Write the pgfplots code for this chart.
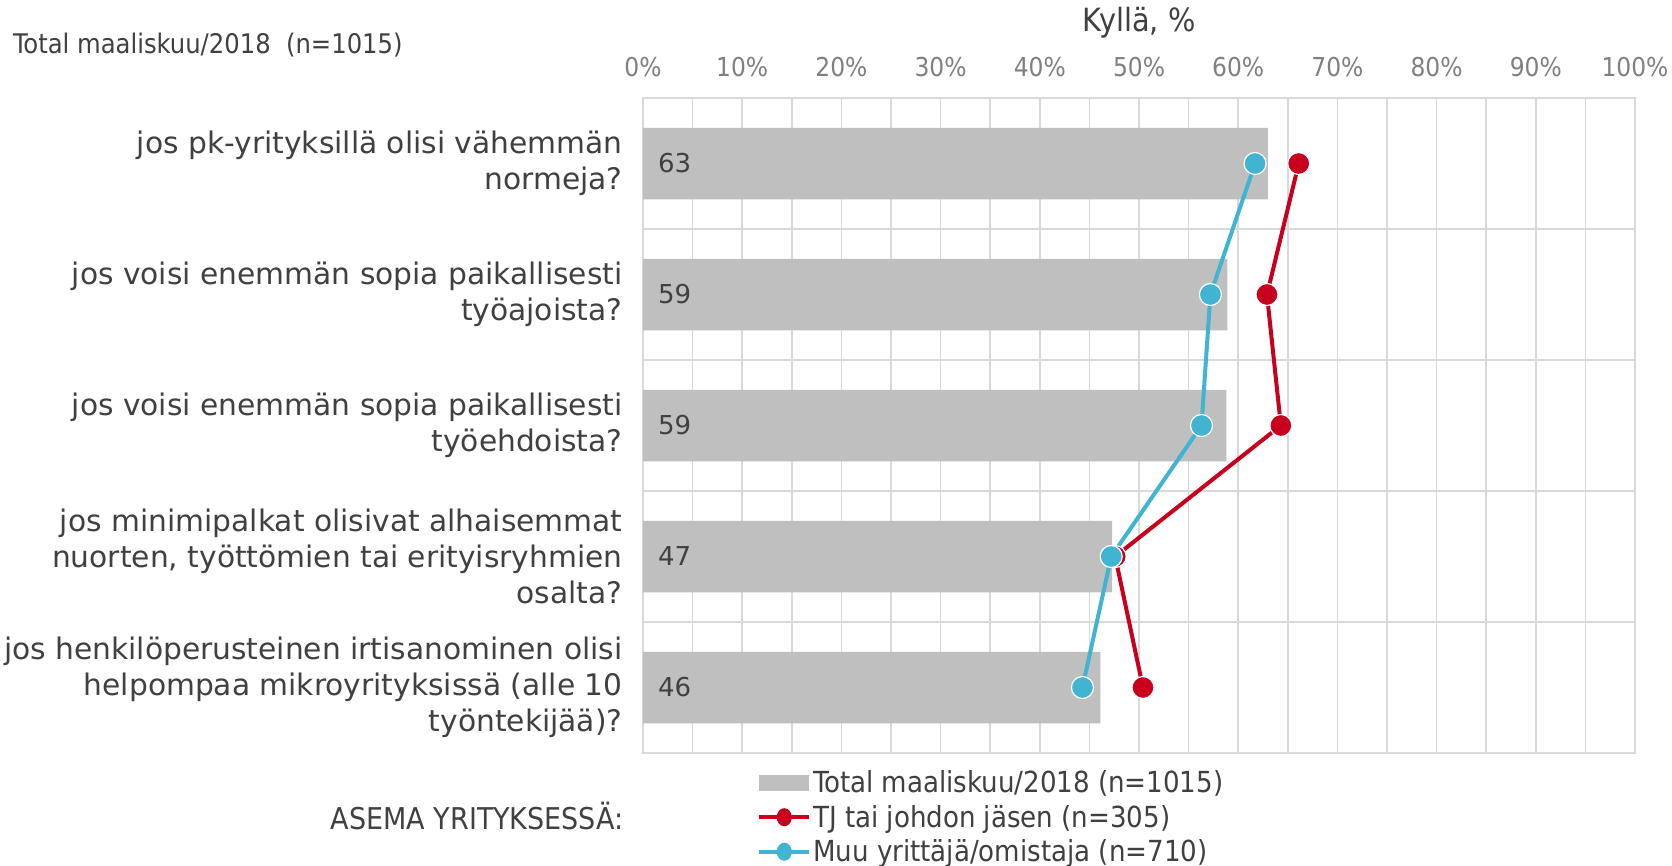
\documentclass[border=0pt]{standalone}
\usepackage{pgfplots}
\pgfplotsset{compat=1.18}
\usepackage{fontspec}
\setmainfont{DejaVu Sans}
\newfontfamily\cond{DejaVu Sans Condensed}
\definecolor{cGray}{HTML}{BFBFBF}
\definecolor{cRed}{HTML}{C8001E}
\definecolor{cBlue}{HTML}{41B4D2}
\definecolor{cGrid}{HTML}{D9D9D9}
\definecolor{cText}{HTML}{404040}
\definecolor{cTick}{HTML}{808080}
\begin{document}
\begin{tikzpicture}
\useasboundingbox (0,0) rectangle (1672bp,866bp);
\node[anchor=west, text=cText, font=\cond\fontsize{27bp}{30bp}\selectfont, inner sep=0] at (13bp,821bp) {Total maaliskuu/2018\ \ (n=1015)};
\node[anchor=east, text=cText, font=\cond\fontsize{30bp}{34bp}\selectfont, inner sep=0] at (624bp,50bp) {ASEMA YRITYKSESSÄ:};
\begin{axis}[
  at={(643bp,113bp)}, anchor=south west,
  scale only axis, width=992bp, height=655bp,
  xmin=0, xmax=100, ymin=0.5, ymax=5.5, y dir=reverse,
  xtick={0,10,...,100}, minor x tick num=1,
  ytick={1,2,3,4,5}, minor ytick={1.5,2.5,3.5,4.5},
  xticklabel pos=top,
  major tick length=0, minor tick length=0,
  x grid style={draw=cGrid, line width=1.5bp},
  minor x grid style={draw=cGrid, line width=1.5bp},
  minor y grid style={draw=cGrid, line width=1.5bp},
  xmajorgrids, xminorgrids, yminorgrids,
  axis line style={draw=cGrid, line width=1.5bp},
  /pgf/number format/assume math mode=true,
  xticklabel={\pgfmathprintnumber{\tick}\%},
  xticklabel style={text=cTick, font=\cond\fontsize{26bp}{30bp}\selectfont, yshift=18bp},
  xlabel={Kyllä, \%}, xlabel style={text=cText, font=\cond\fontsize{32bp}{36bp}\selectfont, yshift=12bp},
  yticklabels={{jos pk-yrityksillä olisi vähemmän\\normeja?},
    {jos voisi enemmän sopia paikallisesti\\työajoista?},
    {jos voisi enemmän sopia paikallisesti\\työehdoista?},
    {jos minimipalkat olisivat alhaisemmat\\nuorten, työttömien tai erityisryhmien\\osalta?},
    {jos henkilöperusteinen irtisanominen olisi\\helpompaa mikroyrityksissä (alle 10\\työntekijää)?}},
  yticklabel style={align=right, text=cText, font=\fontsize{29.7bp}{36bp}\selectfont, xshift=-17bp},
  legend style={at={(0.115,-0.024)}, anchor=north west, draw=none, fill=none,
    font=\cond\fontsize{29bp}{33bp}\selectfont, text=cText, row sep=7bp,
    /tikz/every even column/.append style={column sep=3bp}, inner sep=0pt},
  legend cell align=left,
]
\addplot[xbar, bar width=71.5bp, bar shift=0pt, fill=cGray, draw=none,
  legend image code/.code={\fill[cGray] (0bp,-8bp) rectangle (50bp,8bp);}]
  coordinates {(63.0,1) (58.9,2) (58.8,3) (47.3,4) (46.1,5)};
\addlegendentry{Total maaliskuu/2018 (n=1015)}
\addplot[cRed, line width=4bp, mark=*, mark size=11bp, mark options={fill=cRed, draw=white, line width=1.2bp},
  legend image code/.code={\draw[cRed, line width=4bp] (0bp,0bp) -- (50bp,0bp); \fill[cRed] (25bp,0bp) ellipse (5.5bp and 7bp);}]
  coordinates {(66.1,1) (62.9,2) (64.3,3) (47.6,4) (50.4,5)};
\addlegendentry{TJ tai johdon jäsen (n=305)}
\addplot[cBlue, line width=4bp, mark=*, mark size=11bp, mark options={fill=cBlue, draw=white, line width=1.2bp},
  legend image code/.code={\draw[cBlue, line width=4bp] (0bp,0bp) -- (50bp,0bp); \fill[cBlue] (25bp,0bp) ellipse (5.5bp and 7bp);}]
  coordinates {(61.7,1) (57.2,2) (56.3,3) (47.2,4) (44.3,5)};
\addlegendentry{Muu yrittäjä/omistaja (n=710)}
\addplot[draw=none, mark=none, forget plot, nodes near coords, point meta=explicit symbolic,
  nodes near coords style={anchor=west, xshift=15bp, inner sep=0pt, text=cText, font=\fontsize{26bp}{30bp}\selectfont}]
  coordinates {(0,1) [63] (0,2) [59] (0,3) [59] (0,4) [47] (0,5) [46]};
\end{axis}
\end{tikzpicture}
\end{document}
